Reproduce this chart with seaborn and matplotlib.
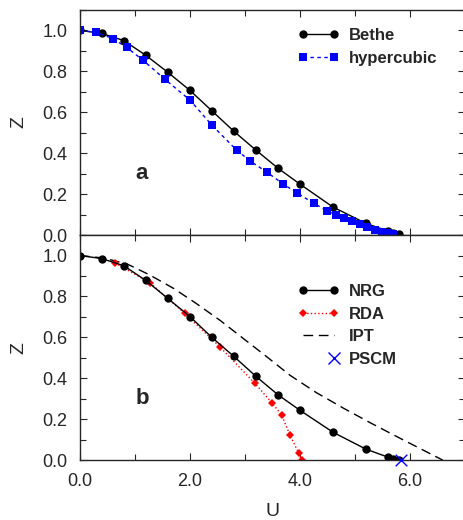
import matplotlib as mpl
mpl.use('Agg')
import matplotlib.pyplot as plt
import seaborn as sns
import pandas as pd
from matplotlib.lines import Line2D
from matplotlib.legend_handler import HandlerLine2D
from matplotlib.ticker import MultipleLocator, FormatStrFormatter


# panel a: Bethe lattice vs hypercubic lattice
bethe_u = [0.0, 0.4, 0.8, 1.2, 1.6, 2.0, 2.4, 2.8, 3.2, 3.6, 4.0, 4.6, 5.2, 5.6, 5.7, 5.8]
bethe_z = [1.0, 0.985, 0.95, 0.878, 0.795, 0.707, 0.607, 0.507, 0.415, 0.327, 0.249, 0.137, 0.057, 0.02, 0.01, 0.004]

hyper_u = [0.0, 0.3, 0.6, 0.85, 1.15, 1.55, 2.0, 2.4, 2.85, 3.1, 3.4, 3.7, 3.95, 4.25, 4.5, 4.65,
           4.8, 4.95, 5.1, 5.22, 5.36, 5.5, 5.6, 5.7]
hyper_z = [1.0, 0.99, 0.96, 0.917, 0.854, 0.76, 0.66, 0.537, 0.415, 0.361, 0.307, 0.249, 0.205,
           0.156, 0.117, 0.098, 0.083, 0.068, 0.054, 0.039, 0.024, 0.015, 0.01, 0.005]

# panel b: NRG vs RDA vs IPT vs PSCM
nrg_u = [0.0, 0.4, 0.8, 1.2, 1.6, 2.0, 2.4, 2.8, 3.2, 3.6, 4.0, 4.6, 5.2, 5.6, 5.7, 5.8]
nrg_z = [1.0, 0.985, 0.95, 0.878, 0.79, 0.702, 0.60, 0.507, 0.41, 0.32, 0.244, 0.137, 0.054, 0.015, 0.007, 0.002]

rda_u = [0.64, 1.27, 1.91, 2.55, 3.18, 3.5, 3.67, 3.82, 3.98, 4.03]
rda_z = [0.963, 0.868, 0.717, 0.553, 0.376, 0.278, 0.22, 0.122, 0.034, 0.0]

ipt_u = [0.0, 0.42, 0.85, 1.27, 1.7, 2.12, 2.55, 2.97, 3.4, 3.82, 4.3, 4.8, 5.3, 5.8, 6.2, 6.6]
ipt_z = [1.0, 0.988, 0.96, 0.905, 0.84, 0.765, 0.683, 0.595, 0.505, 0.415, 0.33, 0.253, 0.18, 0.11, 0.055, 0.0]

pscm_u = [5.84]
pscm_z = [0.0]


class RightMarkerHandler(HandlerLine2D):
    # single legend marker at the right end of the handle
    def create_artists(self, legend, orig_handle, xdescent, ydescent, width, height, fontsize, trans):
        artists = super().create_artists(legend, orig_handle, xdescent, ydescent, width, height,
                                         fontsize, trans)
        artists[0].set_markevery([1])
        return artists


def style_axis(ax, show_xlabels):
    ax.set_xlim(0, 7.0)
    ax.set_ylim(0, 1.1)
    ax.xaxis.set_major_locator(MultipleLocator(2.0))
    ax.xaxis.set_minor_locator(MultipleLocator(1.0))
    ax.yaxis.set_major_locator(MultipleLocator(0.2))
    ax.yaxis.set_minor_locator(MultipleLocator(0.1))
    ax.xaxis.set_major_formatter(FormatStrFormatter('%.1f'))
    ax.yaxis.set_major_formatter(FormatStrFormatter('%.1f'))
    ax.tick_params(which='both', direction='in', top=True, right=True, labelsize=13, width=0.8)
    ax.tick_params(which='major', length=5)
    ax.tick_params(which='minor', length=4)
    ax.tick_params(axis='y', which='major', pad=9)
    ax.tick_params(axis='x', which='major', pad=9)
    if not show_xlabels:
        ax.tick_params(axis='x', labelbottom=False)
    ax.set_ylabel('Z', fontsize=14)
    ax.yaxis.set_label_coords(-0.135, 0.5)
    for s in ax.spines.values():
        s.set_linewidth(1.0)


sns.set_style('ticks')
plt.rcParams['font.family'] = ['Liberation Sans', 'DejaVu Sans']

fig = plt.figure(figsize=(4.64, 5.2), dpi=100)
ax1 = fig.add_axes([0.172, 0.548, 0.83, 0.433])
ax2 = fig.add_axes([0.172, 0.115, 0.83, 0.433])

# Panel a.
df_bethe = pd.DataFrame({'U': bethe_u, 'Z': bethe_z})
df_hyper = pd.DataFrame({'U': hyper_u, 'Z': hyper_z})
sns.lineplot(data=df_bethe, x='U', y='Z', ax=ax1, color='black', lw=1.0, marker='o',
             markersize=6, markeredgewidth=0, estimator=None, sort=False, label='Bethe')
sns.lineplot(data=df_hyper, x='U', y='Z', ax=ax1, color='#0000ff', lw=1.0, marker='s',
             markersize=5.5, markeredgewidth=0, estimator=None, sort=False, label='hypercubic',
             linestyle=(0, (2.5, 2.5)))
style_axis(ax1, False)
ax1.set_xlabel('')
ax1.text(1.13, 0.30, 'a', fontsize=16, fontweight='bold', ha='center', va='center')
ax1.legend(loc='upper left', bbox_to_anchor=(0.566, 0.92), frameon=False, numpoints=2,
           handlelength=2.5, handletextpad=0.55, labelspacing=0.5, borderpad=0, borderaxespad=0,
           prop={'weight': 'bold', 'size': 12})

# Panel b.
df_nrg = pd.DataFrame({'U': nrg_u, 'Z': nrg_z})
df_rda = pd.DataFrame({'U': rda_u, 'Z': rda_z})
df_ipt = pd.DataFrame({'U': ipt_u, 'Z': ipt_z})
df_pscm = pd.DataFrame({'U': pscm_u, 'Z': pscm_z})
sns.lineplot(data=df_ipt, x='U', y='Z', ax=ax2, color='black', lw=1.0,
             estimator=None, sort=False, linestyle=(0, (7, 4)))
sns.lineplot(data=df_rda, x='U', y='Z', ax=ax2, color='red', lw=1.0, marker='D',
             markersize=4.5, markeredgewidth=0, estimator=None, sort=False, linestyle=':')
sns.lineplot(data=df_nrg, x='U', y='Z', ax=ax2, color='black', lw=1.0, marker='o',
             markersize=6, markeredgewidth=0, estimator=None, sort=False)
sns.scatterplot(data=df_pscm, x='U', y='Z', ax=ax2, color='#0000ff', marker='x', s=70,
                linewidth=1.0, clip_on=False, zorder=5)
style_axis(ax2, True)
ax2.set_xlabel('U', fontsize=14)
ax2.xaxis.set_label_coords(0.5, -0.19)
ax2.text(1.13, 0.30, 'b', fontsize=16, fontweight='bold', ha='center', va='center')

pscm_handle = Line2D([], [], color='#0000ff', ls='none', marker='x', markersize=9, markeredgewidth=1.0)
handles = [
    Line2D([], [], color='black', lw=1.0, marker='o', markersize=6, markeredgewidth=0),
    Line2D([], [], color='red', lw=1.0, ls=':', marker='D', markersize=4.5, markeredgewidth=0),
    Line2D([], [], color='black', lw=1.0, ls=(0, (7, 4))),
    pscm_handle,
]
ax2.legend(handles, ['NRG', 'RDA', 'IPT', 'PSCM'], loc='upper left', bbox_to_anchor=(0.566, 0.782),
           frameon=False, numpoints=2, handlelength=2.5, handletextpad=0.55, labelspacing=0.45,
           borderpad=0, borderaxespad=0, prop={'weight': 'bold', 'size': 12},
           handler_map={pscm_handle: RightMarkerHandler(numpoints=2)})

plt.savefig('out.png', dpi=100)
